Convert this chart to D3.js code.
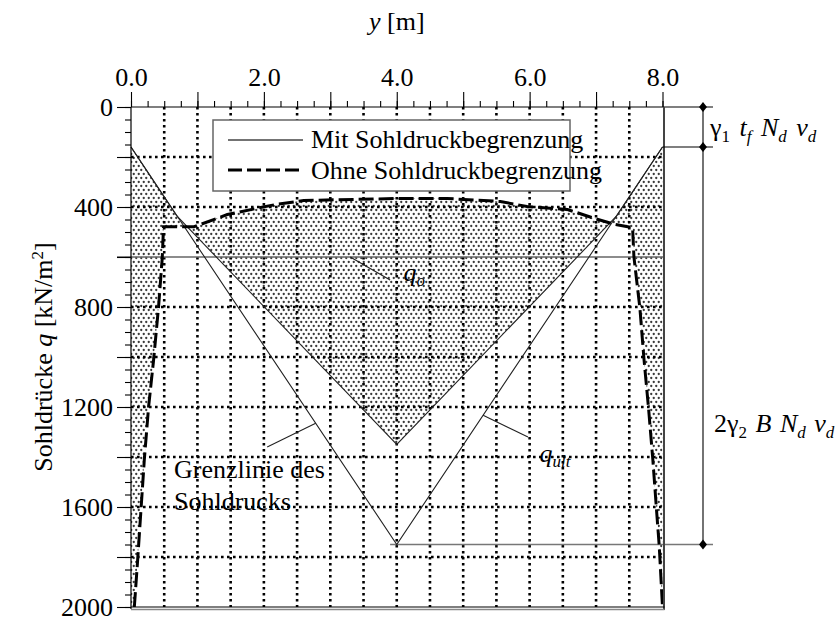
<!DOCTYPE html>
<html>
<head>
<meta charset="utf-8">
<script src="https://cdn.jsdelivr.net/npm/d3@7"></script>
<style>
  body { margin: 0; background: #fff; }
  svg text { font-family: "Liberation Serif", "Times New Roman", serif; font-size: 26px; fill: #000; }
</style>
</head>
<body>
<svg id="chart" width="836" height="621"></svg>
<script>
// ---- data ----
// y [m] along the footing, q [kN/m2] soil pressure
const limitY = [0, 4, 8];                 // Grenzlinie des Sohldrucks (q_ult)
const limitQ = [160, 1750, 160];

const mitY = [0, 0.69, 4, 7.31, 8];       // Mit Sohldruckbegrenzung
const mitQ = [160, 436, 1350, 436, 160];

const ohneY = [0.05, 0.10, 0.15, 0.20, 0.265, 0.34, 0.415, 0.47, 0.49, 0.95, 1.45, 1.9, 2.2, 2.6, 4.0,
               4.76, 5.56, 5.96, 6.57, 6.97, 7.27, 7.55, 7.57, 7.66, 7.72, 7.79, 7.855, 7.91, 7.95, 8.0];
const ohneQ = [2000, 1812, 1612, 1412, 1199, 1012, 799, 605, 479, 479, 430, 405, 389, 374, 366,
               366, 378, 398, 410, 445, 469, 483, 600, 805, 1005, 1205, 1412, 1612, 1752, 2000];

const qo = 600;

const xLabels = ["0.0", "2.0", "4.0", "6.0", "8.0"];
const xLabelValues = [0, 2, 4, 6, 8];
const xMajor = [0, 1, 2, 3, 4, 5, 6, 7, 8];
const xMinor = d3.range(0, 8.001, 0.25);
const xGrid = [0.5, 1, 1.5, 2, 2.5, 3, 3.5, 4, 4.5, 5, 5.5, 6, 6.5, 7, 7.5];

const yLabelValues = [0, 400, 800, 1200, 1600, 2000];
const yMajor = d3.range(0, 2001, 200);
const yMinor = d3.range(0, 2001, 50);
const yGrid = [200, 400, 800, 1000, 1200, 1400, 1600, 1800];

// ---- setup ----
const svg = d3.select("#chart");
const x = d3.scaleLinear().domain([0, 8]).range([131, 662.5]);
const y = d3.scaleLinear().domain([0, 2000]).range([107, 607]);

const line = d3.line().x(d => x(d[0])).y(d => y(d[1]));
const mit = mitY.map((v, i) => [v, mitQ[i]]);
const ohne = ohneY.map((v, i) => [v, ohneQ[i]]);
const limit = limitY.map((v, i) => [v, limitQ[i]]);

// dotted fill pattern
const pat = svg.append("defs").append("pattern")
  .attr("id", "dots")
  .attr("patternUnits", "userSpaceOnUse")
  .attr("width", 5).attr("height", 8);
pat.append("circle").attr("cx", 1.25).attr("cy", 2).attr("r", 1.15).attr("fill", "#3a3a3a");
pat.append("circle").attr("cx", 3.75).attr("cy", 6).attr("r", 1.15).attr("fill", "#3a3a3a");

// shaded area between the two distributions
const shade = mit.concat(ohne.slice().reverse(), [[0, 2000]]);
svg.append("path")
  .attr("d", line(shade) + "Z")
  .attr("fill", "url(#dots)");

// dotted grid
svg.append("g").selectAll("line")
  .data(xGrid)
  .enter().append("line")
  .attr("x1", d => x(d)).attr("x2", d => x(d))
  .attr("y1", y(0)).attr("y2", y(2000))
  .attr("stroke", "#000").attr("stroke-width", 2.6)
  .attr("stroke-dasharray", "2.6,3.4");

svg.append("g").selectAll("line")
  .data(yGrid)
  .enter().append("line")
  .attr("x1", x(0)).attr("x2", x(8))
  .attr("y1", d => y(d)).attr("y2", d => y(d))
  .attr("stroke", "#000").attr("stroke-width", 2.6)
  .attr("stroke-dasharray", "2.6,3.4");

// q_o line
svg.append("line")
  .attr("x1", x(0) - 14).attr("x2", x(8) + 1)
  .attr("y1", y(qo)).attr("y2", y(qo))
  .attr("stroke", "#666").attr("stroke-width", 1.3);

// q_ult extension line
svg.append("line")
  .attr("x1", x(3.9)).attr("x2", 713)
  .attr("y1", y(1750)).attr("y2", y(1750))
  .attr("stroke", "#777").attr("stroke-width", 1.5);

// limit line and "mit" line
svg.append("path").attr("d", line(limit))
  .attr("fill", "none").attr("stroke", "#222").attr("stroke-width", 1.1);
svg.append("path").attr("d", line(mit))
  .attr("fill", "none").attr("stroke", "#222").attr("stroke-width", 1.1);

// "ohne" dashed line
svg.append("path").attr("d", line(ohne))
  .attr("fill", "none").attr("stroke", "#000").attr("stroke-width", 3)
  .attr("stroke-dasharray", "15,5");

// ---- axes ----
const topMinor = svg.append("g").attr("transform", `translate(0,${y(0)})`)
  .call(d3.axisTop(x).tickValues(xMinor).tickSize(6).tickSizeOuter(0).tickFormat(""));
topMinor.select(".domain").remove();

const topMajor = svg.append("g").attr("transform", `translate(0,${y(0)})`)
  .call(d3.axisTop(x).tickValues(xMajor).tickSize(15).tickSizeOuter(0).tickPadding(6)
    .tickFormat(d => xLabelValues.includes(d) ? xLabels[xLabelValues.indexOf(d)] : ""));
topMajor.select(".domain").remove();

const leftMinor = svg.append("g").attr("transform", `translate(${x(0)},0)`)
  .call(d3.axisLeft(y).tickValues(yMinor).tickSize(6).tickSizeOuter(0).tickFormat(""));
leftMinor.select(".domain").remove();

const leftMajor = svg.append("g").attr("transform", `translate(${x(0)},0)`)
  .call(d3.axisLeft(y).tickValues(yMajor).tickSize(14).tickSizeOuter(0).tickPadding(4)
    .tickFormat(d => yLabelValues.includes(d) ? d : ""));
leftMajor.select(".domain").remove();

svg.selectAll(".tick line").attr("stroke", "#000").attr("stroke-width", 1.1);

// frame
svg.append("line").attr("x1", x(0)).attr("x2", x(0)).attr("y1", y(0)).attr("y2", y(2000) + 2)
  .attr("stroke", "#000").attr("stroke-width", 1.2);
svg.append("line").attr("x1", x(0)).attr("x2", 713).attr("y1", y(0)).attr("y2", y(0))
  .attr("stroke", "#000").attr("stroke-width", 1.2);
svg.append("line").attr("x1", x(8) + 1.5).attr("x2", x(8) + 1.5).attr("y1", y(0)).attr("y2", y(2000) + 3)
  .attr("stroke", "#444").attr("stroke-width", 2);
svg.append("line").attr("x1", x(0)).attr("x2", x(8) + 2).attr("y1", y(2000)).attr("y2", y(2000))
  .attr("stroke", "#000").attr("stroke-width", 1.2);
svg.append("line").attr("x1", x(0)).attr("x2", x(8) + 2).attr("y1", y(2000) + 2.5).attr("y2", y(2000) + 2.5)
  .attr("stroke", "#888").attr("stroke-width", 1.5);

// edge value extension line
svg.append("line").attr("x1", x(8)).attr("x2", 713).attr("y1", y(limitQ[2])).attr("y2", y(limitQ[2]))
  .attr("stroke", "#000").attr("stroke-width", 1.1);

// dimension line with diamond ends
const dimX = 703;
svg.append("line").attr("x1", dimX).attr("x2", dimX).attr("y1", y(0)).attr("y2", y(1750))
  .attr("stroke", "#000").attr("stroke-width", 1.1);
svg.append("g").selectAll("path")
  .data([0, limitQ[2], 1750])
  .enter().append("path")
  .attr("transform", d => `translate(${dimX},${y(d)}) scale(1.4,1)`)
  .attr("d", d3.symbol(d3.symbolDiamond, 28))
  .attr("fill", "#000");

// ---- legend ----
const lg = svg.append("g");
lg.append("rect").attr("x", 213).attr("y", 120).attr("width", 357).attr("height", 71)
  .attr("fill", "#fff").attr("stroke", "#666").attr("stroke-width", 1.5);
lg.append("line").attr("x1", 228).attr("x2", 303).attr("y1", 140).attr("y2", 140)
  .attr("stroke", "#444").attr("stroke-width", 1.3);
lg.append("line").attr("x1", 228).attr("x2", 303).attr("y1", 170).attr("y2", 170)
  .attr("stroke", "#000").attr("stroke-width", 3.2).attr("stroke-dasharray", "14,5");
lg.append("text").attr("x", 311).attr("y", 148).text("Mit Sohldruckbegrenzung");
lg.append("text").attr("x", 311).attr("y", 179).text("Ohne Sohldruckbegrenzung");

// ---- axis titles ----
const xt = svg.append("text").attr("x", x(4)).attr("y", 30).attr("text-anchor", "middle");
xt.append("tspan").attr("font-style", "italic").text("y");
xt.append("tspan").text(" [m]");

const yt = svg.append("text")
  .attr("transform", `translate(52,${y(1000)}) rotate(-90)`)
  .attr("text-anchor", "middle");
yt.append("tspan").text("Sohldrücke ");
yt.append("tspan").attr("font-style", "italic").text("q");
yt.append("tspan").text(" [kN/m");
yt.append("tspan").attr("dy", -9).style("font-size", "17px").text("2");
yt.append("tspan").attr("dy", 9).text("]");

// ---- annotations ----
function sub(t, main, s, italicMain, italicSub, gap) {
  t.append("tspan").attr("dx", gap || 0).attr("font-style", italicMain ? "italic" : "normal").text(main);
  t.append("tspan").attr("dy", 6).attr("font-style", italicSub ? "italic" : "normal")
    .style("font-size", "17px").text(s);
  t.append("tspan").attr("dy", -6).text(" ");
}

const leader = (a, b) => svg.append("line")
  .attr("x1", x(a[0])).attr("y1", y(a[1])).attr("x2", x(b[0])).attr("y2", y(b[1]))
  .attr("stroke", "#222").attr("stroke-width", 1.1);

// q_o
leader([3.3, qo], [3.9, 692]);
const to = svg.append("text").attr("x", x(4.1)).attr("y", 281);
to.append("tspan").attr("font-style", "italic").text("q");
to.append("tspan").attr("dy", 5).attr("font-style", "italic").style("font-size", "17px").text("o");

// q_ult
leader([5.3, 160 + 397.5 * 2.7], [5.975, 1320]);
const tu = svg.append("text").attr("x", x(6.15)).attr("y", 462);
tu.append("tspan").attr("font-style", "italic").text("q");
tu.append("tspan").attr("dy", 5).attr("font-style", "italic").style("font-size", "17px").text("ult");

// Grenzlinie
leader([2.78, 160 + 397.5 * 2.78], [2.05, 1360]);
svg.append("text").attr("x", 174).attr("y", 478).text("Grenzlinie des");
svg.append("text").attr("x", 174).attr("y", 510).text("Sohldrucks");

// dimension labels
const d1 = svg.append("text").attr("x", 710).attr("y", 136);
sub(d1, "γ", "1", false, false, 0);
sub(d1, "t", "f", true, true, 3);
sub(d1, "N", "d", true, true, 3);
sub(d1, "ν", "d", true, true, 3);

const d2 = svg.append("text").attr("x", 714).attr("y", 432);
d2.append("tspan").text("2");
sub(d2, "γ", "2", false, false, 0);
d2.append("tspan").attr("dx", 2).attr("font-style", "italic").text("B ");
sub(d2, "N", "d", true, true, 2);
sub(d2, "ν", "d", true, true, 2);
</script>
</body>
</html>
